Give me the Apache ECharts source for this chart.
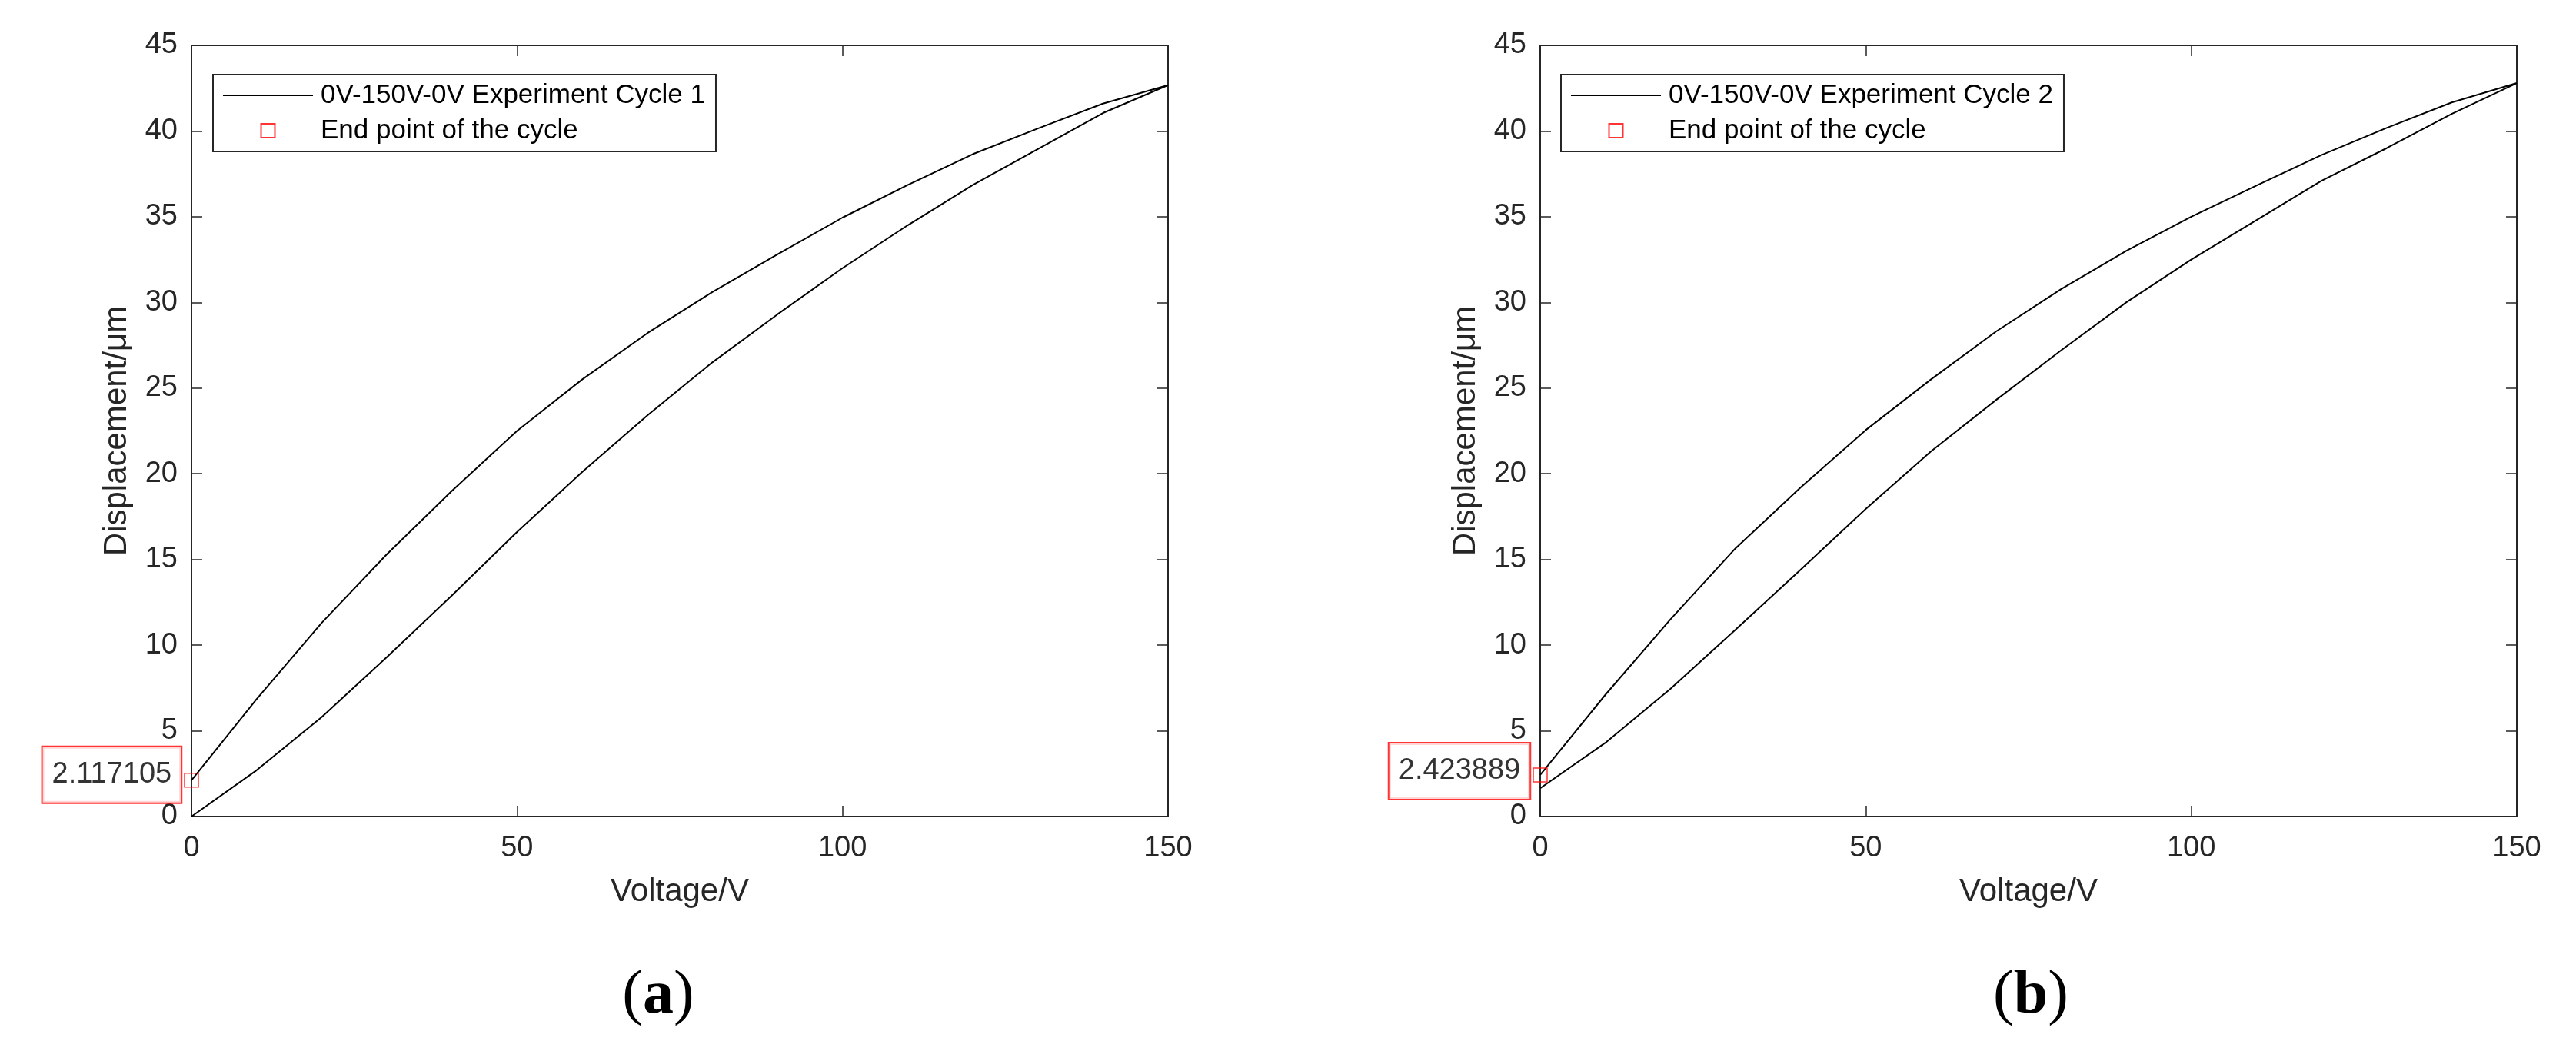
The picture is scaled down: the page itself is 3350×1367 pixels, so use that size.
<!DOCTYPE html>
<html>
<head>
<meta charset="utf-8">
<script src="https://cdn.jsdelivr.net/npm/echarts@6/dist/echarts.min.js"></script>
<style>
  html, body { margin: 0; padding: 0; background: #fff; }
  #chart { width: 3350px; height: 1367px; }
</style>
</head>
<body>
<div id="chart"></div>
<script>
// ---- Data ----
const VOLTAGE_UP   = [0, 10, 20, 30, 40, 50, 60, 70, 80, 90, 100, 110, 120, 130, 140, 150];
const VOLTAGE_DOWN = [150, 140, 130, 120, 110, 100, 90, 80, 70, 60, 50, 40, 30, 20, 10, 0];

// Cycle 1 (panel a)
const CYCLE1_UP   = [0, 2.7, 5.8, 9.3, 12.9, 16.6, 20.1, 23.4, 26.5, 29.3, 32.0, 34.5, 36.85, 38.95, 41.05, 42.68];
const CYCLE1_DOWN = [42.68, 41.6, 40.15, 38.65, 36.85, 34.95, 32.8, 30.6, 28.2, 25.5, 22.5, 19.0, 15.3, 11.3, 6.85, 2.117105];
const CYCLE1_END  = [0, 2.117105];

// Cycle 2 (panel b)
const CYCLE2_UP   = [1.65, 4.3, 7.45, 10.9, 14.4, 17.95, 21.3, 24.3, 27.2, 30.0, 32.5, 34.8, 37.1, 39.0, 41.0, 42.8];
const CYCLE2_DOWN = [42.8, 41.67, 40.18, 38.6, 36.82, 35.0, 33.0, 30.77, 28.3, 25.5, 22.55, 19.2, 15.65, 11.5, 7.1, 2.423889];
const CYCLE2_END  = [0, 2.423889];

const SERIES_NAMES = ['0V-150V-0V Experiment Cycle 1', '0V-150V-0V Experiment Cycle 2'];
const END_NAME = 'End point of the cycle';
const PANEL_LABELS = ['a', 'b'];
const X_NAME = 'Voltage/V';
const Y_NAME = 'Displacement/\u03bcm';
const X_RANGE = [0, 150, 50];
const Y_RANGE = [0, 45, 5];

// ---- Build ----
function loop(up, down) {
  return VOLTAGE_UP.map((v, i) => [v, up[i]]).concat(VOLTAGE_DOWN.map((v, i) => [v, down[i]]));
}

const FONT = "'Liberation Sans', Arial, Helvetica, sans-serif";
const AXC = '#262626';

const grids = [
  { left: 249, top: 59, width: 1270, height: 1003 },
  { left: 2003, top: 59, width: 1270, height: 1003 }
];

const xAxes = [], yAxes = [];
grids.forEach((g, gi) => {
  const common = {
    type: 'value', gridIndex: gi,
    splitLine: { show: false },
    axisLine: { show: true, onZero: false, lineStyle: { color: AXC, width: 2 } },
    axisTick: { show: true, inside: true, length: 14, lineStyle: { color: AXC, width: 1.5 } }
  };
  xAxes.push(Object.assign({}, common, {
    position: 'bottom', min: X_RANGE[0], max: X_RANGE[1], interval: X_RANGE[2],
    name: X_NAME, nameLocation: 'middle', nameGap: 77,
    nameTextStyle: { fontFamily: FONT, fontSize: 42, color: AXC },
    axisLabel: { show: true, margin: 23, fontFamily: FONT, fontSize: 38, color: AXC }
  }));
  xAxes.push(Object.assign({}, common, {
    position: 'top', min: X_RANGE[0], max: X_RANGE[1], interval: X_RANGE[2],
    axisLabel: { show: false }
  }));
  yAxes.push(Object.assign({}, common, {
    position: 'left', min: Y_RANGE[0], max: Y_RANGE[1], interval: Y_RANGE[2],
    name: Y_NAME, nameLocation: 'middle', nameGap: 76,
    nameTextStyle: { fontFamily: FONT, fontSize: 42, color: AXC },
    axisLabel: { show: true, margin: 18, fontFamily: FONT, fontSize: 38, color: AXC }
  }));
  yAxes.push(Object.assign({}, common, {
    position: 'right', min: Y_RANGE[0], max: Y_RANGE[1], interval: Y_RANGE[2],
    axisLabel: { show: false }
  }));
});

function lineSeries(name, data, gi) {
  return {
    type: 'line', name: name, data: data,
    xAxisIndex: gi * 2, yAxisIndex: gi * 2,
    symbol: 'none', showSymbol: false, smooth: false,
    lineStyle: { color: '#000', width: 2 },
    itemStyle: { color: '#000' },
    z: 2
  };
}
function endSeries(pt, gi, offsetY) {
  return {
    type: 'scatter', name: END_NAME, data: [pt],
    xAxisIndex: gi * 2, yAxisIndex: gi * 2,
    symbol: 'rect', symbolSize: 18, clip: false,
    itemStyle: { color: 'rgba(255,255,255,0)', borderColor: '#ff0000', borderWidth: 1.5 },
    label: {
      show: true, position: 'left', distance: 4, offset: [0, offsetY],
      formatter: p => p.value[1].toFixed(6),
      fontFamily: FONT, fontSize: 38, lineHeight: 38, color: '#000',
      borderColor: '#ff0000', borderWidth: 2, padding: [17, 12, 17, 12],
      backgroundColor: '#fff'
    },
    z: 5
  };
}

function legendFor(gi, left) {
  return {
    orient: 'vertical', left: left, top: 97,
    data: [
      { name: SERIES_NAMES[gi], itemStyle: { opacity: 0 } },
      { name: END_NAME, icon: 'path://M0,0L10,0L10,10L0,10Z' }
    ],
    symbolKeepAspect: true,
    itemWidth: 117, itemHeight: 18, itemGap: 10,
    padding: [9, 14, 9, 12],
    borderColor: AXC, borderWidth: 2, backgroundColor: '#fff',
    selectedMode: false,
    textStyle: { fontFamily: FONT, fontSize: 35, lineHeight: 36, color: '#000', padding: [0, 0, 0, 5] }
  };
}

const panelRich = {
  p: { fontFamily: "'Liberation Serif', 'Times New Roman', serif", fontSize: 80, color: '#000' },
  b: { fontFamily: "'Liberation Serif', 'Times New Roman', serif", fontSize: 80, fontWeight: 'bold', color: '#000' }
};

const option = {
  animation: false,
  backgroundColor: '#fff',
  grid: grids,
  xAxis: xAxes,
  yAxis: yAxes,
  legend: [legendFor(0, 277), legendFor(1, 2030)],
  series: [
    lineSeries(SERIES_NAMES[0], loop(CYCLE1_UP, CYCLE1_DOWN), 0),
    endSeries(CYCLE1_END, 0, -7),
    lineSeries(SERIES_NAMES[1], loop(CYCLE2_UP, CYCLE2_DOWN), 1),
    endSeries(CYCLE2_END, 1, -5)
  ],
  graphic: [
    { type: 'text', x: 856, y: 1296, style: { text: '{p|(}{b|' + PANEL_LABELS[0] + '}{p|)}', rich: panelRich, align: 'center', verticalAlign: 'middle' } },
    { type: 'text', x: 2641, y: 1296, style: { text: '{p|(}{b|' + PANEL_LABELS[1] + '}{p|)}', rich: panelRich, align: 'center', verticalAlign: 'middle' } }
  ]
};

const chart = echarts.init(document.getElementById('chart'), null, { renderer: 'canvas' });
chart.setOption(option);
</script>
</body>
</html>
